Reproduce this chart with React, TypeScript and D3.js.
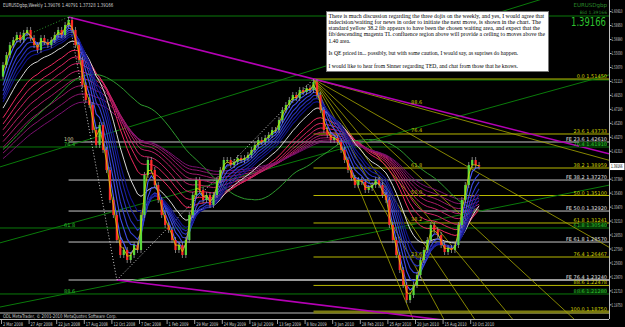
import React from "react";
import * as d3 from "d3";

// weekly closes before the visible window (drive the moving averages only)
const history = [1.3120,1.3240,1.3330,1.3360,1.3450,1.3530,1.3600,1.3640,1.3540,1.3530,1.3450,1.3450,1.3430,1.3540,1.3370,1.3440,1.3460,1.3650,1.3780,1.3800,1.3690,1.3650,1.3700,1.3570,1.3470,1.3550,1.3640,1.3880,1.3950,1.4070,1.4180,1.4120,1.4160,1.4270,1.4390,1.4480,1.4670,1.4830,1.4760,1.4630,1.4600,1.4420,1.4410,1.4550,1.4730,1.4770,1.4630,1.4760,1.4850,1.4510,1.4720,1.4970,1.5180];

// visible weekly closes, 2 Mar 2008 .. Oct 2010
const closes = [1.5341,1.5482,1.5622,1.5692,1.5763,1.5692,1.5791,1.5833,1.5720,1.5622,1.5552,1.5720,1.5664,1.5622,1.5692,1.5763,1.5833,1.5763,1.5903,1.5973,1.5833,1.5622,1.5412,1.5061,1.4850,1.4780,1.4429,1.4219,1.4499,1.4149,1.3868,1.3447,1.3236,1.2885,1.2675,1.2745,1.2605,1.2675,1.2815,1.2745,1.3236,1.3798,1.4008,1.3868,1.3657,1.3447,1.3236,1.3096,1.3026,1.2885,1.2745,1.2815,1.2675,1.2885,1.3236,1.3517,1.3727,1.3587,1.3447,1.3517,1.3377,1.3517,1.3727,1.3868,1.4008,1.4008,1.3938,1.3980,1.4036,1.4008,1.4036,1.4078,1.4149,1.4219,1.4289,1.4261,1.4317,1.4359,1.4429,1.4429,1.4570,1.4710,1.4780,1.4850,1.4920,1.4878,1.4991,1.4963,1.5019,1.4991,1.5103,1.4920,1.4710,1.4429,1.4359,1.4289,1.4317,1.4261,1.4149,1.4008,1.3868,1.3756,1.3657,1.3727,1.3699,1.3587,1.3615,1.3657,1.3727,1.3657,1.3517,1.3447,1.3096,1.2885,1.2675,1.2464,1.2254,1.2043,1.2113,1.2254,1.2394,1.2605,1.2745,1.2885,1.3096,1.3026,1.2956,1.2815,1.2717,1.2773,1.2745,1.2815,1.3096,1.3447,1.3657,1.3938,1.4008,1.3938,1.39166];

const dateLabels = ["2 Mar 2008","27 Apr 2008","22 Jun 2008","17 Aug 2008","12 Oct 2008","7 Dec 2008","1 Feb 2009","29 Mar 2009","24 May 2009","19 Jul 2009","13 Sep 2009","8 Nov 2009","3 Jan 2010","28 Feb 2010","25 Apr 2010","20 Jun 2010","15 Aug 2010","10 Oct 2010"];
const dateStep = 8;

const priceTicks = [1.6091,1.5895,1.5699,1.5503,1.5307,1.5111,1.4915,1.4719,1.4523,1.4327,1.4131,1.3935,1.3739,1.3543,1.3347,1.3151,1.2955,1.2759,1.2563,1.2367,1.2171,1.1975];

const swingHigh = 1.5145;
const swingLow = 1.1875;
const fibPct = ["0.0","23.6","38.2","50.0","61.8","76.4","88.6","100.0"];
const fibPrice = [1.5145,1.43733,1.38959,1.35100,1.31241,1.26467,1.22478,1.18750];
const fePct = ["FE 23.6","FE 38.2","FE 50.0","FE 61.8","FE 76.4"];
const fePrice = [1.4261,1.3727,1.3292,1.2857,1.2324];
const greenPct = ["","","76.4","61.8","88.6"];
const greenPrice = [1.6029,1.5131,1.4191,1.3054,1.2128];
const fanPct = [88.6,76.4,61.8,50.0,38.2,23.6,0];

const blueEma = [3,5,7,9,11,13];
const redEma = [24,29,34,40,46,53,61,70];

const textLines = [
  "There is much discussion regarding the three dojis on the weekly, and yes, I would agree that",
  "indecision/waiting for news in order to initiate the next move, is shown in the chart. The",
  "standard yellow 38.2 fib appears to have been the chosen waiting area, and expect that the",
  "fib/descending magenta TL confluence region above will provide a ceiling to moves above the",
  "1.40 area.",
  "",
  "Is QE priced in... possibly, but with some caution, I would say, as suprises do happen.",
  "",
  "I would like to hear from Sinner regarding TED, and chat from those that he knows.",
];
const textWidths = [216,213,212,217,22,0,190,0,190];

const header = "EURUSDgbp,Weekly  1.39076 1.40791 1.37328 1.39166";
const copyright = "ODL MetaTrader, \u00a9 2001-2010 MetaQuotes Software Corp.";

let ctx: CanvasRenderingContext2D | null = null;
function measure(text: string, size: number, family: string) {
  if (!ctx) ctx = document.createElement("canvas").getContext("2d");
  if (!ctx) return text.length * size * 0.6;
  ctx.font = `${size}px ${family}`;
  return ctx.measureText(text).width;
}

function FitText(props: { x: number; y: number; w: number; size: number; fill: string; family?: string; anchor?: "start" | "end"; children: string }) {
  const fam = props.family || "DejaVu Sans";
  const nat = measure(props.children, props.size, fam);
  const s = nat > 0 ? props.w / nat : 1;
  const x0 = props.anchor === "end" ? props.x - props.w : props.x;
  return (
    <text transform={`translate(${x0},${props.y}) scale(${s},1)`} fontSize={props.size} fontFamily={fam} fill={props.fill}>
      {props.children}
    </text>
  );
}

export default function App() {
  const RIGHT = 609;
  const BOTTOM = 319;
  const all = [...history, ...closes];
  const h0 = history.length;
  const ema = (p: number) => {
    const k = 2 / (p + 1);
    let e = all[0];
    return all.map((v, j) => (e = j === 0 ? v : v * k + e * (1 - k))).slice(h0);
  };
  const sma = (p: number) =>
    all.map((_, j) => d3.mean(all.slice(Math.max(0, j - p + 1), j + 1)) as number).slice(h0);

  const x = d3.scaleLinear().domain([0, closes.length - 1]).range([3, 3 + (closes.length - 1) * 3.45]);
  const y = d3.scaleLinear().domain([swingLow, swingHigh]).range([312, 79]);
  const line = d3.line<number>().x((_, i) => x(i)).y((v) => y(v));

  const seg = (i1: number, p1: number, i2: number, p2: number, x0?: number, x1?: number) => {
    const ax = x(i1), ay = y(p1), bx = x(i2), by = y(p2);
    const s = (by - ay) / (bx - ax);
    const sx = x0 === undefined ? ax : x0;
    const ex = x1 === undefined ? bx : x1;
    return { x1: sx, y1: ay + (sx - ax) * s, x2: ex, y2: ay + (ex - ax) * s };
  };

  const blueCol = d3.scaleLinear<string>().domain([0, blueEma.length - 1]).range(["#4a5cff", "#10128a"]);
  const redCol = d3.scaleLinear<string>().domain([0, redEma.length - 1]).range(["#f02a60", "#7a1070"]);

  const iHigh = 90, iLow = 118, iTop08 = 19, iLow08 = 33;
  const fanStart = { i: iHigh, p: swingHigh };

  const font = "DejaVu Sans, sans-serif";
  const last = closes[closes.length - 1];

  return (
    <svg width={625} height={327} style={{ position: "absolute", left: 0, top: 0, background: "#000" }}>
      <defs>
        <clipPath id="plot">
          <rect x={0} y={0} width={RIGHT} height={BOTTOM} />
        </clipPath>
      </defs>
      <rect x={0} y={0} width={625} height={327} fill="#000" />
      <g clipPath="url(#plot)">
        {greenPrice.map((p, k) => (
          <line key={"g" + k} x1={0} x2={RIGHT} y1={y(p)} y2={y(p)} stroke="#0a7a0a" strokeWidth={1} />
        ))}
        {fePrice.map((p, k) => (
          <line key={"fe" + k} x1={x(iTop08)} x2={RIGHT} y1={y(p)} y2={y(p)} stroke="#c8c8c8" strokeWidth={1} />
        ))}
        <line x1={x(iLow08)} x2={RIGHT} y1={y(fePrice[4])} y2={y(fePrice[4])} stroke="#9a9a9a" strokeWidth={2} />
        <line x1={0} x2={RIGHT} y1={313} y2={313} stroke="#bdbdbd" strokeWidth={1} />
        {fibPrice.map((p, k) => (
          <line key={"f" + k} x1={x(iHigh)} x2={RIGHT} y1={y(p)} y2={y(p)}
            stroke={k === fibPrice.length - 1 ? "#7a7a10" : "#b8b800"} strokeWidth={k === fibPrice.length - 1 ? 3 : 1} />
        ))}
        {[
          seg(0, 1.3924, 146, 1.6113, 0, RIGHT),
          seg(0, 1.2857, 138, 1.4700, 0, RIGHT),
          seg(0, 1.1953, 138, 1.3290, 0, RIGHT),
        ].map((s, k) => (
          <line key={"gd" + k} {...s} stroke="#0a7a0a" strokeWidth={1} />
        ))}
        {fanPct.map((r, k) => {
          const lv = swingLow + (r / 100) * (swingHigh - swingLow);
          const s = seg(fanStart.i, fanStart.p, iLow, lv, x(iHigh), RIGHT);
          return <line key={"fan" + k} {...s} stroke="#a8a800" strokeWidth={0.8} />;
        })}
        <line {...seg(iTop08, 1.6015, iHigh, swingHigh, x(iTop08), RIGHT)} stroke="#b400b4" strokeWidth={1.6} />
        <line {...seg(iLow08, 1.2324, 138, 1.17, x(iLow08), RIGHT)} stroke="#b400b4" strokeWidth={1.6} />
        <line {...seg(iTop08, 1.6015, iLow08, 1.2324)} stroke="#d0d0d0" strokeWidth={1} strokeDasharray="1,2" />
        <line {...seg(iLow08, 1.2324, iHigh, swingHigh)} stroke="#d0d0d0" strokeWidth={1} strokeDasharray="1,2" />
        <line {...seg(5, 1.572, iTop08, 1.6015)} stroke="#2a9a2a" strokeWidth={1} strokeDasharray="1,2" />

        {redEma.map((p, k) => (
          <path key={"r" + p} d={line(ema(p)) || ""} fill="none" stroke={redCol(k)} strokeWidth={1} />
        ))}
        <path d={line(sma(45)) || ""} fill="none" stroke="#2e9a2e" strokeWidth={1} />
        <path d={line(ema(17)) || ""} fill="none" stroke="#d8d8d8" strokeWidth={1} />
        {blueEma.map((p, k) => (
          <path key={"b" + p} d={line(ema(p)) || ""} fill="none" stroke={blueCol(k)} strokeWidth={1.1} />
        ))}

        {closes.map((c, i) => {
          const o = i === 0 ? history[history.length - 1] : closes[i - 1];
          const up = c >= o;
          const top = Math.min(y(o), y(c));
          const bot = Math.max(y(o), y(c));
          const col = up ? "#5ad83c" : "#ff2a2a";
          return (
            <g key={"c" + i}>
              <line x1={x(i)} x2={x(i)} y1={top - 3} y2={bot + 3} stroke="#9a9a9a" strokeWidth={0.8} />
              <rect x={x(i) - 1.1} y={top} width={2.2} height={Math.max(1, bot - top)} fill={col} />
            </g>
          );
        })}
        <path d={line(ema(2)) || ""} fill="none" stroke="#d8d800" strokeWidth={0.8} />

        {fanPct.filter((r) => r > 0).map((r, k) => {
          const lv = swingLow + (r / 100) * (swingHigh - swingLow);
          return (
            <text key={"fl" + k} x={x(iLow) + 1} y={y(lv) - 1.5} fontSize={5} fontFamily={font} fill="#c8c800">
              {r.toFixed(1)}
            </text>
          );
        })}
        {fibPrice.map((p, k) => (
          <text key={"fr" + k} x={RIGHT - 2} y={y(p) - 1} fontSize={5} fontFamily={font} fill="#d0d000" textAnchor="end">
            {fibPct[k] + " " + p.toFixed(5)}
          </text>
        ))}
        {fePrice.map((p, k) => (
          <text key={"fer" + k} x={RIGHT - 2} y={y(p) - 1} fontSize={5} fontFamily={font} fill="#e0e0e0" textAnchor="end">
            {fePct[k] + " " + p.toFixed(5)}
          </text>
        ))}
        {greenPrice.map((p, k) =>
          greenPct[k] ? (
            <g key={"gr" + k}>
              <rect x={RIGHT - 30} y={y(p) - 5.5} width={28} height={5.5} fill="#063806" />
              <text x={RIGHT - 2} y={y(p) - 1} fontSize={5} fontFamily={font} fill="#2ec02e" textAnchor="end">
                {greenPct[k] + " " + p.toFixed(5)}
              </text>
              <text x={64} y={y(p) - 1} fontSize={5} fontFamily={font} fill="#2ec02e">
                {greenPct[k]}
              </text>
            </g>
          ) : null
        )}
        <text x={64} y={y(fePrice[0]) - 1} fontSize={5} fontFamily={font} fill="#d8d8a0">100</text>

        <FitText x={3} y={7} w={112} size={5.5} fill="#d0d0d0">{header}</FitText>
        <text x={RIGHT - 2} y={7} fontSize={5.5} fontFamily={font} fill="#2a8a2a" textAnchor="end">EURUSDgbp</text>
        <text x={RIGHT - 2} y={14} fontSize={4.5} fontFamily={font} fill="#2a8a2a" textAnchor="end">Bid 1.39166</text>
        <FitText x={571} y={26} w={35} size={12} fill="#2ec02e">{last.toFixed(5)}</FitText>
        <FitText x={3} y={317.5} w={114} size={5} fill="#d0d0d0">{copyright}</FitText>
      </g>

      <rect x={326.5} y={11.5} width={222} height={60} fill="#ffffff" stroke="#777" strokeWidth={1} />
      {textLines.map((t, k) =>
        t ? (
          <FitText key={"t" + k} x={328.5} y={17.5 + k * 6.3} w={textWidths[k]} size={6.3}
            family="Liberation Serif" fill="#000">
            {t}
          </FitText>
        ) : null
      )}

      <line x1={RIGHT + 0.5} x2={RIGHT + 0.5} y1={0} y2={BOTTOM} stroke="#c0c0c0" strokeWidth={1} />
      <line x1={0} x2={RIGHT} y1={BOTTOM + 0.5} y2={BOTTOM + 0.5} stroke="#c0c0c0" strokeWidth={1} />
      {priceTicks.map((p, k) => (
        <g key={"pt" + k}>
          <line x1={RIGHT} x2={RIGHT + 2.5} y1={y(p)} y2={y(p)} stroke="#c0c0c0" />
          <FitText x={RIGHT + 2.5} y={y(p) + 1.8} w={11} size={5} fill="#d0d0d0">{p.toFixed(5)}</FitText>
        </g>
      ))}
      <rect x={RIGHT + 1} y={y(last) - 3.5} width={14.5} height={7} fill="#ffffff" />
      <FitText x={RIGHT + 2} y={y(last) + 1.8} w={11.5} size={5} fill="#000">{last.toFixed(5)}</FitText>
      {dateLabels.map((d, k) => {
        const xi = x(k * dateStep) - 1.5;
        return (
          <g key={"d" + k}>
            <line x1={xi} x2={xi} y1={BOTTOM} y2={BOTTOM + 5} stroke="#c0c0c0" strokeWidth={0.8} />
            <FitText x={xi + 1.5} y={325.5} w={d.length * 2.0} size={5.2} fill="#d0d0d0">{d}</FitText>
          </g>
        );
      })}
    </svg>
  );
}
